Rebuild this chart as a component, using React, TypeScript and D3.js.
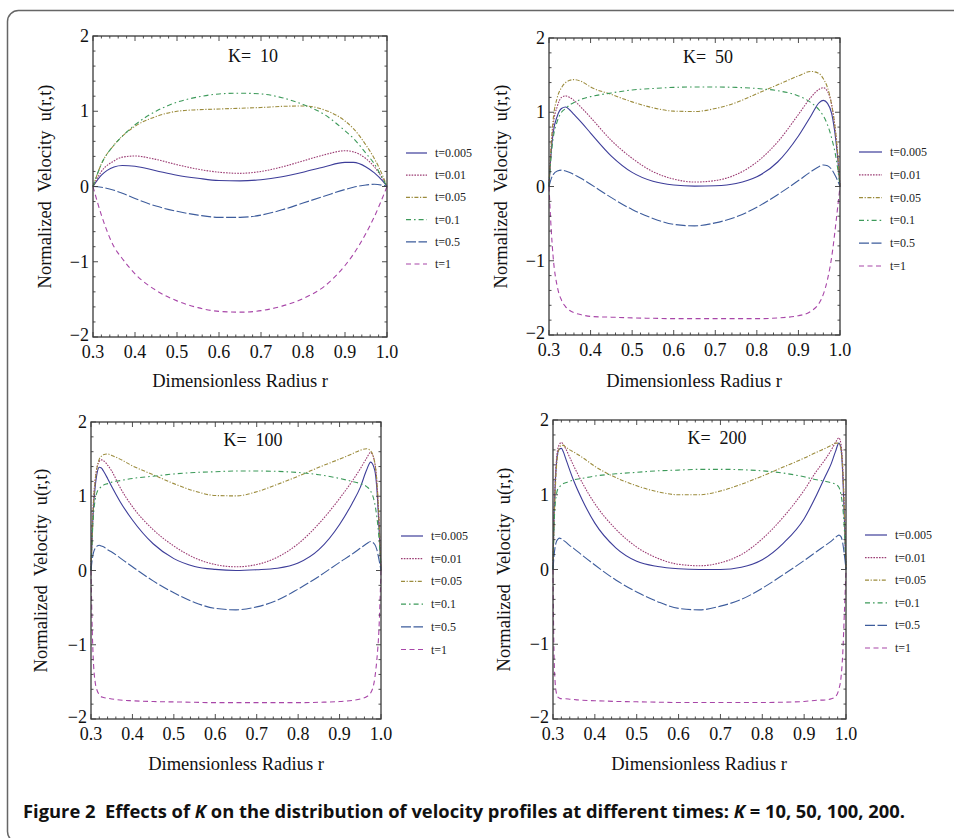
import React from "react";
import * as d3 from "d3";

// legend / style per time step
const timeLabels = ["t=0.005", "t=0.01", "t=0.05", "t=0.1", "t=0.5", "t=1"];
const lineColors = ["#3d3d99", "#9c3d74", "#9c8c3d", "#3d9a5a", "#3d5c9c", "#a846a8"];
const lineDashes = ["", "1.6,1.2", "4,1.6,1.2,1.6", "5,3,1.6,3", "10,2.5", "5,3.5"];

// K = 10
const rK10 = [0.3, 0.32, 0.35, 0.37, 0.4, 0.45, 0.5, 0.55, 0.6, 0.65, 0.7, 0.75, 0.8, 0.85, 0.9, 0.92, 0.95, 0.97, 0.99, 1.0];
const k10_t0005 = [0, 0.15, 0.26, 0.28, 0.27, 0.21, 0.15, 0.11, 0.08, 0.075, 0.09, 0.13, 0.19, 0.26, 0.32, 0.32, 0.26, 0.18, 0.07, 0];
const k10_t001 = [0, 0.2, 0.34, 0.39, 0.405, 0.36, 0.29, 0.23, 0.19, 0.175, 0.2, 0.26, 0.34, 0.42, 0.475, 0.46, 0.37, 0.26, 0.1, 0];
const k10_t005 = [0, 0.3, 0.55, 0.67, 0.8, 0.93, 1.0, 1.02, 1.03, 1.04, 1.05, 1.065, 1.07, 1.02, 0.87, 0.77, 0.55, 0.37, 0.14, 0];
const k10_t01 = [0, 0.3, 0.55, 0.67, 0.82, 1.0, 1.12, 1.19, 1.23, 1.24, 1.23, 1.18, 1.09, 0.96, 0.74, 0.64, 0.44, 0.3, 0.1, 0];
const k10_t05 = [0, -0.01, -0.05, -0.09, -0.16, -0.26, -0.33, -0.38, -0.41, -0.41, -0.38, -0.31, -0.22, -0.13, -0.04, -0.01, 0.02, 0.03, 0.015, 0];
const k10_t1 = [0, -0.38, -0.8, -0.96, -1.16, -1.38, -1.52, -1.61, -1.66, -1.67, -1.65, -1.59, -1.49, -1.33, -1.05, -0.9, -0.62, -0.4, -0.14, 0];

// K = 50
const rK50 = [0.3, 0.305, 0.31, 0.32, 0.33, 0.34, 0.35, 0.36, 0.38, 0.4, 0.45, 0.5, 0.55, 0.6, 0.65, 0.7, 0.75, 0.8, 0.85, 0.9, 0.93, 0.95, 0.96, 0.97, 0.98, 0.99, 0.995, 1.0];
const k50_t0005 = [0, 0.45, 0.72, 0.95, 1.05, 1.07, 1.03, 0.97, 0.85, 0.72, 0.41, 0.19, 0.07, 0.02, 0.005, 0.01, 0.04, 0.13, 0.33, 0.68, 0.95, 1.13, 1.16, 1.12, 0.98, 0.62, 0.35, 0];
const k50_t001 = [0, 0.5, 0.82, 1.08, 1.2, 1.22, 1.2, 1.16, 1.05, 0.93, 0.62, 0.38, 0.2, 0.1, 0.06, 0.08, 0.16, 0.33, 0.6, 0.97, 1.2, 1.31, 1.33, 1.28, 1.1, 0.7, 0.4, 0];
const k50_t005 = [0, 0.55, 0.9, 1.2, 1.33, 1.4, 1.43, 1.44, 1.41, 1.34, 1.24, 1.14, 1.06, 1.015, 1.01, 1.05, 1.13, 1.25, 1.37, 1.49, 1.55, 1.52, 1.45, 1.33, 1.1, 0.7, 0.4, 0];
const k50_t01 = [0, 0.4, 0.65, 0.88, 1.0, 1.05, 1.1, 1.13, 1.18, 1.21, 1.26, 1.3, 1.32, 1.335, 1.34, 1.34, 1.335, 1.32, 1.29, 1.22, 1.13, 1.03, 0.95, 0.83, 0.65, 0.4, 0.22, 0];
const k50_t05 = [0, 0.1, 0.16, 0.21, 0.22, 0.21, 0.19, 0.16, 0.1, 0.03, -0.15, -0.31, -0.43, -0.51, -0.53, -0.49, -0.41, -0.28, -0.11, 0.08, 0.2, 0.27, 0.29, 0.28, 0.23, 0.13, 0.07, 0];
const k50_t1 = [0, -0.55, -0.95, -1.35, -1.53, -1.62, -1.67, -1.7, -1.73, -1.75, -1.76, -1.77, -1.775, -1.78, -1.78, -1.78, -1.78, -1.78, -1.77, -1.74, -1.68, -1.57, -1.45, -1.25, -0.95, -0.5, -0.25, 0];

// K = 100
const rK100 = [0.3, 0.303, 0.306, 0.31, 0.315, 0.32, 0.325, 0.33, 0.34, 0.35, 0.37, 0.4, 0.45, 0.5, 0.55, 0.6, 0.65, 0.7, 0.75, 0.8, 0.85, 0.9, 0.93, 0.95, 0.965, 0.975, 0.985, 0.99, 0.995, 1.0];
const k100_t0005 = [0, 0.5, 0.85, 1.12, 1.32, 1.39, 1.38, 1.34, 1.24, 1.13, 0.93, 0.68, 0.36, 0.16, 0.055, 0.015, 0, 0.01, 0.03, 0.1, 0.28, 0.62, 0.9, 1.12, 1.35, 1.46, 1.35, 1.1, 0.6, 0];
const k100_t001 = [0, 0.55, 0.95, 1.22, 1.4, 1.47, 1.49, 1.48, 1.42, 1.34, 1.12, 0.86, 0.55, 0.33, 0.17, 0.08, 0.05, 0.08, 0.18, 0.36, 0.63, 0.97, 1.2, 1.37, 1.51, 1.59, 1.45, 1.2, 0.7, 0];
const k100_t005 = [0, 0.5, 0.9, 1.2, 1.4, 1.5, 1.54, 1.56, 1.57, 1.55, 1.5, 1.41, 1.29, 1.17, 1.07, 1.01, 1.005, 1.06, 1.16, 1.27, 1.39, 1.5, 1.57, 1.62, 1.64, 1.61, 1.45, 1.2, 0.7, 0];
const k100_t01 = [0, 0.45, 0.75, 0.95, 1.06, 1.1, 1.13, 1.15, 1.17, 1.19, 1.21, 1.24, 1.27, 1.3, 1.32, 1.33, 1.34, 1.34, 1.335, 1.32, 1.29, 1.24, 1.2, 1.17, 1.13, 1.07, 0.9, 0.72, 0.45, 0];
const k100_t05 = [0, 0.15, 0.24, 0.3, 0.33, 0.34, 0.33, 0.32, 0.28, 0.25, 0.17, 0.05, -0.14, -0.3, -0.43, -0.51, -0.53, -0.49, -0.4, -0.25, -0.08, 0.11, 0.22, 0.3, 0.36, 0.39, 0.35, 0.28, 0.15, 0];
const k100_t1 = [0, -0.8, -1.25, -1.5, -1.62, -1.67, -1.7, -1.71, -1.72, -1.73, -1.745, -1.755, -1.765, -1.77, -1.775, -1.78, -1.78, -1.78, -1.78, -1.78, -1.775, -1.765, -1.75, -1.73, -1.7, -1.65, -1.45, -1.2, -0.8, 0];

// K = 200
const rK200 = [0.3, 0.302, 0.305, 0.308, 0.311, 0.315, 0.32, 0.325, 0.33, 0.34, 0.35, 0.37, 0.4, 0.45, 0.5, 0.55, 0.6, 0.65, 0.7, 0.75, 0.8, 0.85, 0.9, 0.93, 0.95, 0.965, 0.975, 0.983, 0.988, 0.992, 0.996, 1.0];
const k200_t0005 = [0, 0.6, 1.1, 1.4, 1.55, 1.61, 1.62, 1.57, 1.49, 1.33, 1.18, 0.93, 0.62, 0.29, 0.11, 0.04, 0.01, 0, 0, 0.03, 0.13, 0.35, 0.68, 1.0, 1.24, 1.42, 1.58, 1.69, 1.62, 1.3, 0.7, 0];
const k200_t001 = [0, 0.6, 1.15, 1.45, 1.6, 1.67, 1.7, 1.67, 1.62, 1.5, 1.38, 1.16, 0.88, 0.54, 0.3, 0.15, 0.07, 0.05, 0.09, 0.2, 0.41, 0.7, 1.06, 1.32, 1.47, 1.6, 1.7, 1.76, 1.68, 1.4, 0.8, 0];
const k200_t005 = [0, 0.5, 1.0, 1.35, 1.52, 1.62, 1.66, 1.66, 1.64, 1.6, 1.57, 1.5, 1.38, 1.23, 1.12, 1.04, 1.0, 1.0, 1.05, 1.14, 1.25, 1.37, 1.49, 1.57, 1.62, 1.66, 1.69, 1.69, 1.6, 1.35, 0.8, 0];
const k200_t01 = [0, 0.5, 0.85, 1.0, 1.07, 1.1, 1.13, 1.15, 1.16, 1.18, 1.2, 1.22, 1.25, 1.28, 1.3, 1.32, 1.33, 1.34, 1.34, 1.335, 1.32, 1.29, 1.24, 1.2, 1.18, 1.16, 1.14, 1.1, 1.0, 0.85, 0.55, 0];
const k200_t05 = [0, 0.15, 0.3, 0.37, 0.4, 0.42, 0.41, 0.39, 0.37, 0.32, 0.28, 0.19, 0.06, -0.14, -0.3, -0.43, -0.52, -0.54, -0.49, -0.4, -0.25, -0.07, 0.12, 0.24, 0.32, 0.38, 0.43, 0.46, 0.44, 0.36, 0.2, 0];
const k200_t1 = [0, -1.0, -1.5, -1.65, -1.7, -1.72, -1.73, -1.73, -1.73, -1.735, -1.74, -1.75, -1.755, -1.765, -1.77, -1.775, -1.78, -1.78, -1.78, -1.78, -1.78, -1.775, -1.765, -1.75, -1.745, -1.73, -1.7, -1.6, -1.45, -1.15, -0.6, 0];

const serif = "'Liberation Serif', 'Times New Roman', serif";

type PanelProps = {
  kLabel: string;
  r: number[];
  series: number[][];
  x0: number; x1: number; yTop: number; yBot: number;
  legendX: number; legendY: number; legendDy: number; lineLen: number;
  titleX: number; titleY: number;
  xTitleX: number; xTitleY: number;
  yTitleX: number;
};

const Panel = (p: PanelProps) => {
  const x = d3.scaleLinear().domain([0.3, 1.0]).range([p.x0, p.x1]);
  const y = d3.scaleLinear().domain([-2, 2]).range([p.yBot, p.yTop]);
  const line = d3
    .line<number>()
    .x((_, i) => x(p.r[i]))
    .y((d) => y(d))
    .curve(d3.curveMonotoneX);

  const xMajor = x.ticks(7);
  const xMinor = x.ticks(35);
  const yMajor = y.ticks(4);
  const yMinor = y.ticks(20);
  const isMajor = (v: number, maj: number[]) => maj.some((m) => Math.abs(m - v) < 1e-9);
  const fx = d3.format(".1f");
  const fy = d3.format("d");
  const axisColor = "#3a3a3a";

  return (
    <g>
      {/* curves */}
      {p.series.map((s, i) => (
        <path key={i} d={line(s) || ""} fill="none" stroke={lineColors[i]}
          strokeWidth={1.1} strokeDasharray={lineDashes[i] || undefined} />
      ))}
      {/* frame */}
      <rect x={p.x0} y={p.yTop} width={p.x1 - p.x0} height={p.yBot - p.yTop}
        fill="none" stroke={axisColor} strokeWidth={1.3} />
      {/* ticks on all four sides, pointing inward */}
      {xMinor.map((v, i) => {
        const len = isMajor(v, xMajor) ? 5 : 2.5;
        return (
          <g key={"xt" + i} stroke={axisColor} strokeWidth={0.9}>
            <line x1={x(v)} x2={x(v)} y1={p.yBot} y2={p.yBot - len} />
            <line x1={x(v)} x2={x(v)} y1={p.yTop} y2={p.yTop + len} />
          </g>
        );
      })}
      {yMinor.map((v, i) => {
        const len = isMajor(v, yMajor) ? 5 : 2.5;
        return (
          <g key={"yt" + i} stroke={axisColor} strokeWidth={0.9}>
            <line x1={p.x0} x2={p.x0 + len} y1={y(v)} y2={y(v)} />
            <line x1={p.x1} x2={p.x1 - len} y1={y(v)} y2={y(v)} />
          </g>
        );
      })}
      {xMajor.map((v, i) => (
        <text key={"xl" + i} x={x(v)} y={p.yBot + 21} textAnchor="middle"
          fontFamily={serif} fontSize={18} fill="#111">{fx(v)}</text>
      ))}
      {yMajor.map((v, i) => (
        <text key={"yl" + i} x={p.x0 - 4} y={y(v) + (v === -2 ? 4 : 6)} textAnchor="end"
          fontFamily={serif} fontSize={18} fill="#111">{fy(v)}</text>
      ))}
      {/* titles */}
      <text x={p.titleX} y={p.titleY} textAnchor="middle" fontFamily={serif}
        fontSize={18} fill="#111" style={{ whiteSpace: "pre" }}>{p.kLabel}</text>
      <text x={p.xTitleX} y={p.xTitleY} textAnchor="middle" fontFamily={serif}
        fontSize={18.5} fill="#111">Dimensionless Radius r</text>
      <text transform={`translate(${p.yTitleX},${(p.yTop + p.yBot) / 2}) rotate(-90)`}
        textAnchor="middle" fontFamily={serif} fontSize={18.5} fill="#111"
        style={{ whiteSpace: "pre" }}>{"Normalized  Velocity  u(r,t)"}</text>
      {/* legend */}
      {timeLabels.map((lab, i) => {
        const ly = p.legendY + i * p.legendDy;
        return (
          <g key={"lg" + i}>
            <line x1={p.legendX} x2={p.legendX + p.lineLen} y1={ly} y2={ly}
              stroke={lineColors[i]} strokeWidth={1.2}
              strokeDasharray={lineDashes[i] || undefined} />
            <text x={p.legendX + p.lineLen + 8} y={ly + 4} fontFamily={serif}
              fontSize={12} fill="#222">{lab}</text>
          </g>
        );
      })}
    </g>
  );
};

export default function App() {
  return (
    <svg width={954} height={838} style={{ position: "absolute", left: 0, top: 0, background: "#fff" }}>
      <rect x={0} y={0} width={954} height={838} fill="#fff" />
      <rect x={7.5} y={10.5} width={970} height={832} rx={11} fill="none" stroke="#666" strokeWidth={1.5} />
      <Panel kLabel="K=  10" r={rK10}
        series={[k10_t0005, k10_t001, k10_t005, k10_t01, k10_t05, k10_t1]}
        x0={93} x1={387} yTop={36} yBot={337}
        legendX={406} legendY={153} legendDy={22.2} lineLen={21}
        titleX={253} titleY={62} xTitleX={240} xTitleY={387} yTitleX={51} />
      <Panel kLabel="K=  50" r={rK50}
        series={[k50_t0005, k50_t001, k50_t005, k50_t01, k50_t05, k50_t1]}
        x0={549} x1={840} yTop={38} yBot={335}
        legendX={859} legendY={152} legendDy={22.8} lineLen={23}
        titleX={708} titleY={63} xTitleX={694} xTitleY={387} yTitleX={507} />
      <Panel kLabel="K=  100" r={rK100}
        series={[k100_t0005, k100_t001, k100_t005, k100_t01, k100_t05, k100_t1]}
        x0={91} x1={381} yTop={422} yBot={719}
        legendX={401} legendY={536} legendDy={22.7} lineLen={22}
        titleX={253} titleY={446} xTitleX={236} xTitleY={770} yTitleX={47} />
      <Panel kLabel="K=  200" r={rK200}
        series={[k200_t0005, k200_t001, k200_t005, k200_t01, k200_t05, k200_t1]}
        x0={553} x1={846} yTop={420} yBot={719}
        legendX={865} legendY={535} legendDy={22.6} lineLen={22}
        titleX={717} titleY={444} xTitleX={699} xTitleY={770} yTitleX={510} />
      <text x={23} y={818} fontFamily="'Open Sans', 'Noto Sans', sans-serif" fontWeight="bold"
        fontSize={17} fill="#111" textLength={882} lengthAdjust="spacingAndGlyphs"
        style={{ whiteSpace: "pre" }}>
        {"Figure 2  Effects of "}
        <tspan fontStyle="italic">K</tspan>
        {" on the distribution of velocity profiles at different times: "}
        <tspan fontStyle="italic">K</tspan>
        {" = 10, 50, 100, 200."}
      </text>
    </svg>
  );
}
